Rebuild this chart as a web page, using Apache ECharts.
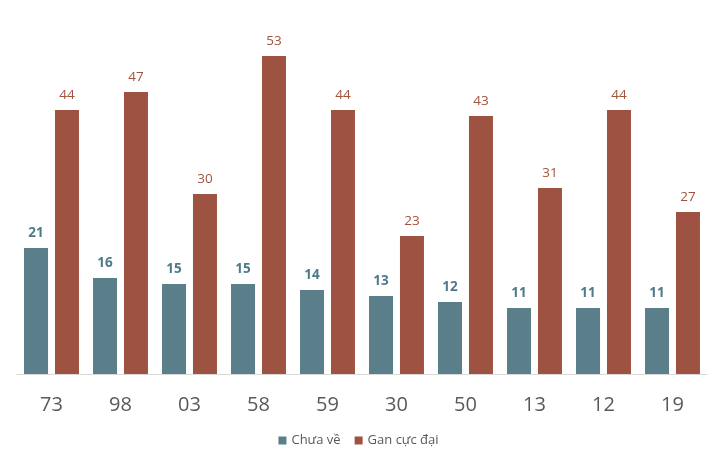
<!DOCTYPE html>
<html><head><meta charset="utf-8">
<script src="https://cdn.jsdelivr.net/npm/echarts@6/dist/echarts.min.js"></script>
<style>html,body{margin:0;padding:0;background:#fff}#c{width:717px;height:463px}</style>
</head><body><div id="c"></div>
<script>
const categories = ['73','98','03','58','59','30','50','13','12','19'];
const chuaVe = [21,16,15,15,14,13,12,11,11,11];
const ganCucDai = [44,47,30,53,44,23,43,31,44,27];
const seriesNames = ['Chưa về','Gan cực đại'];

const font = 'Open Sans, Liberation Sans, sans-serif';
const chart = echarts.init(document.getElementById('c'), null, {renderer:'canvas'});
chart.setOption({
  animation:false,
  backgroundColor:'#fff',
  grid:{left:17,right:10,top:14,bottom:89,containLabel:false},
  legend:{
    bottom:11, left:'center', itemWidth:8, itemHeight:8, itemGap:14,
    icon:'rect',
    textStyle:{fontFamily:font,fontSize:13,color:'#595959'},
    data:seriesNames
  },
  xAxis:{
    type:'category', data:categories,
    axisLine:{lineStyle:{color:'#d9d9d9',width:1}},
    axisTick:{show:false},
    axisLabel:{fontFamily:font,fontSize:20,color:'#595959',margin:21}
  },
  yAxis:{type:'value',min:0,max:60,show:false,splitLine:{show:false}},
  series:[
    {name:seriesNames[0],type:'bar',data:chuaVe,barWidth:24,barGap:'29%',
     itemStyle:{color:'#5A7F8A'},
     label:{show:true,position:'top',distance:8,fontFamily:font,fontSize:13.5,fontWeight:'bold',color:'#4E7B8A'}},
    {name:seriesNames[1],type:'bar',data:ganCucDai,barWidth:24,
     itemStyle:{color:'#9E5342'},
     label:{show:true,position:'top',distance:8,fontFamily:font,fontSize:13.5,color:'#A0533D'}}
  ]
});
</script></body></html>
